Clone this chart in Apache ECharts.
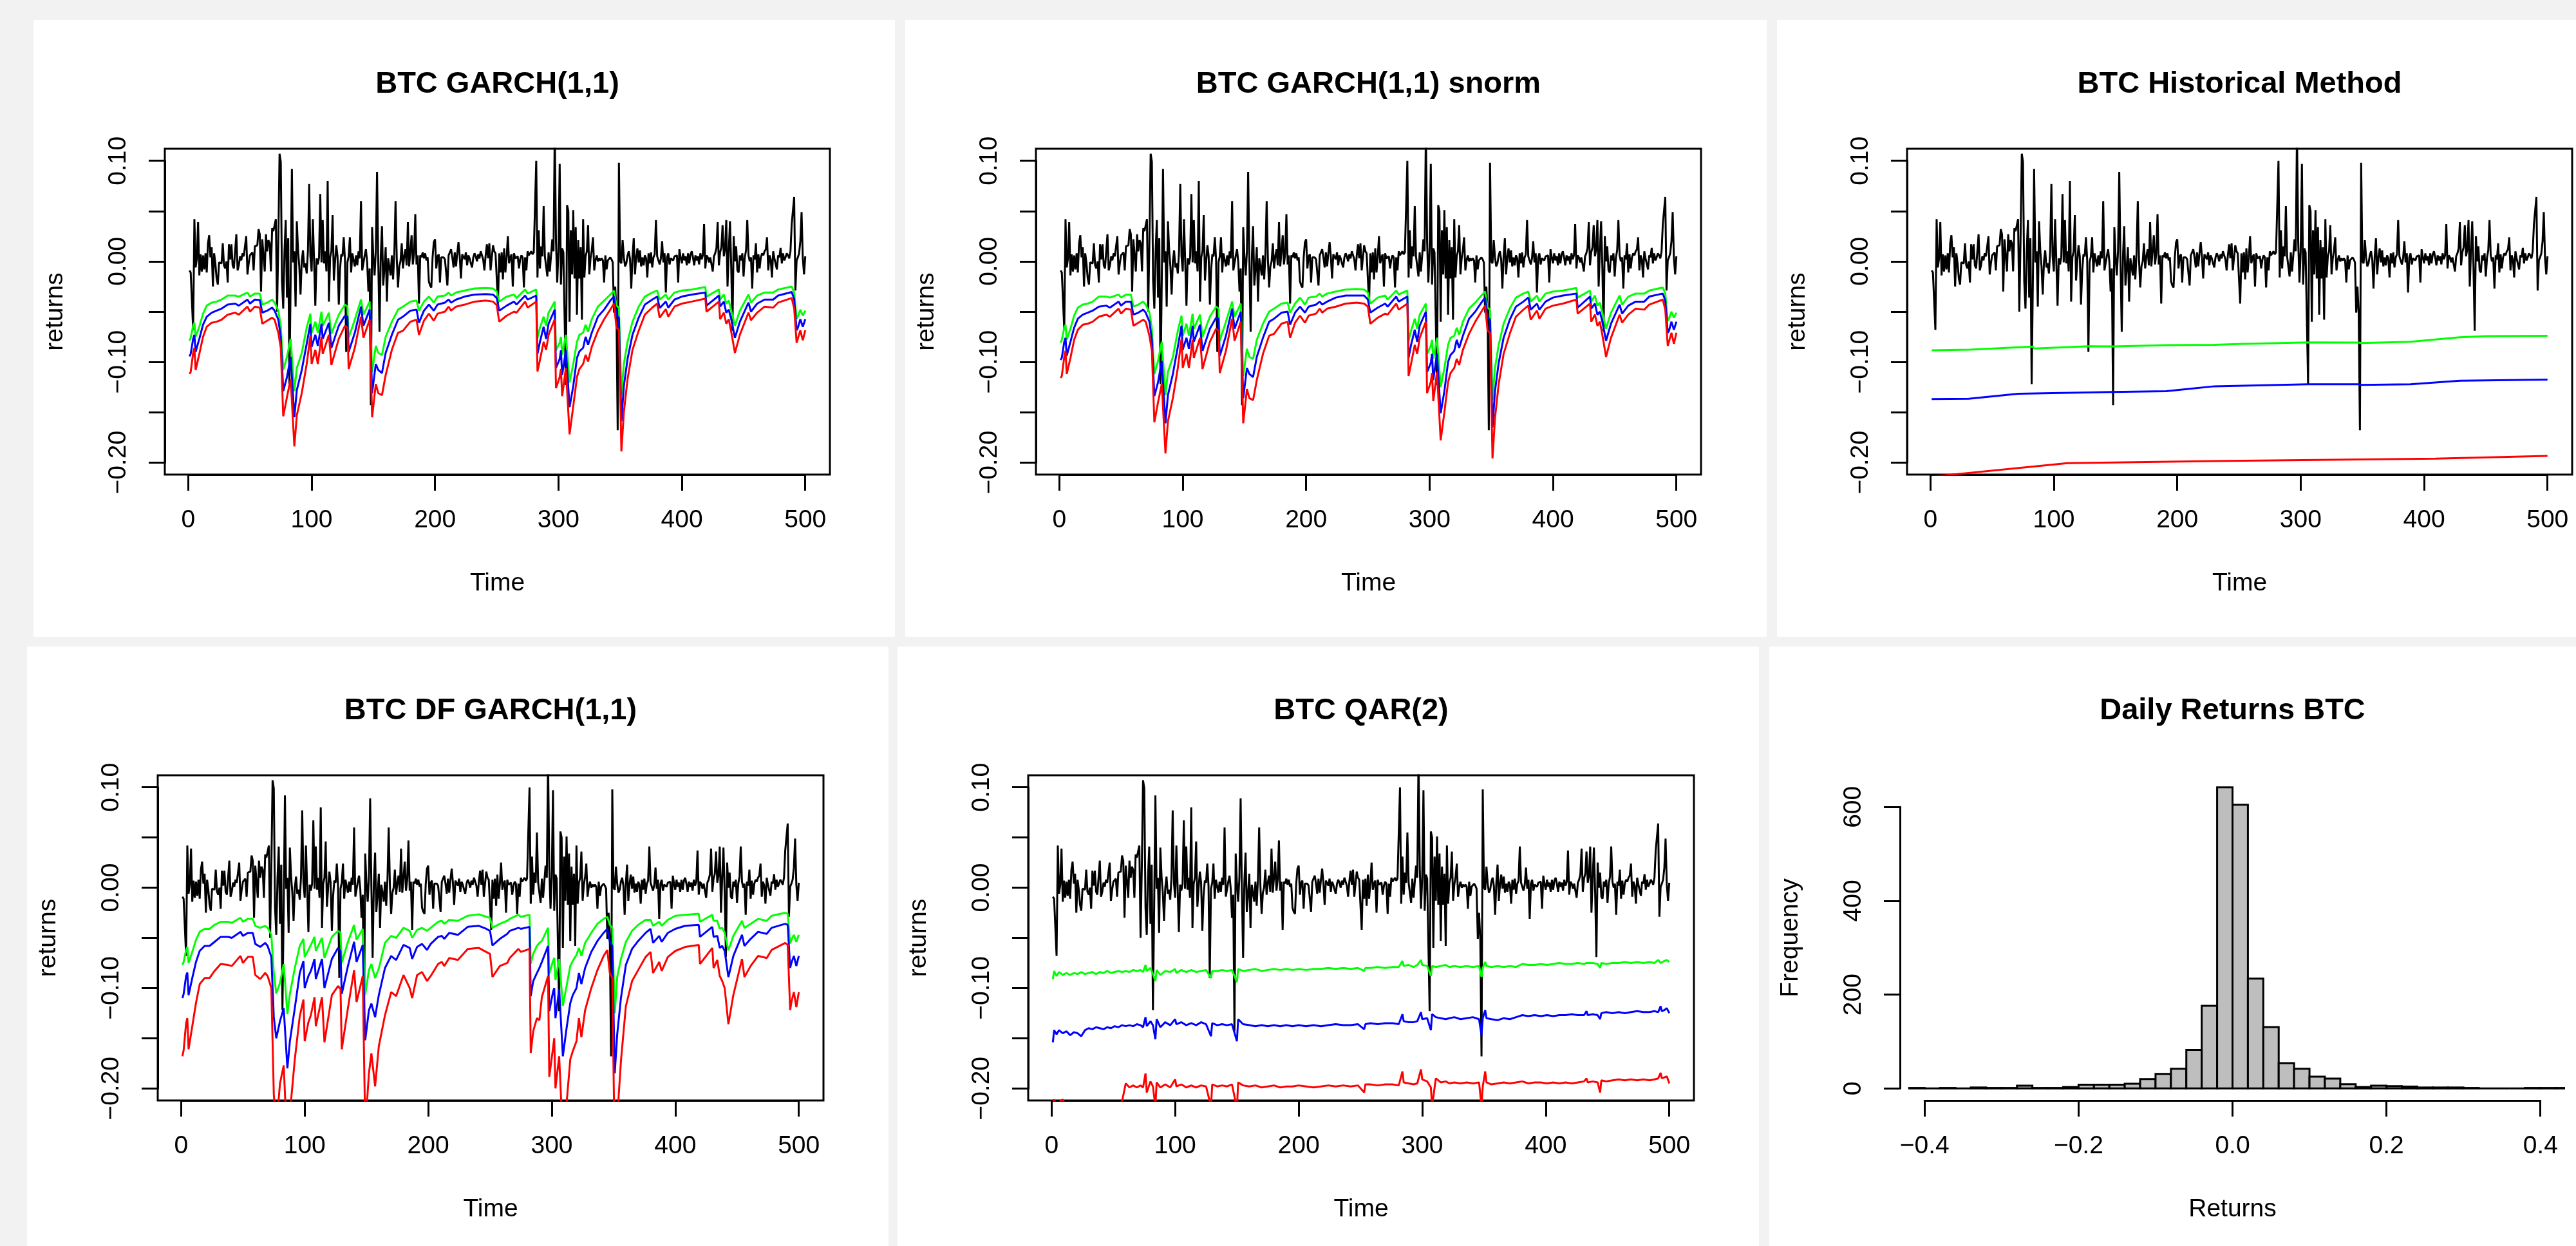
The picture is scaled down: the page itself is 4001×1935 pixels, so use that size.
<!DOCTYPE html>
<html>
<head>
<meta charset="utf-8">
<title>BTC VaR backtests</title>
<script src="https://cdn.jsdelivr.net/npm/echarts@6/dist/echarts.min.js"></script>
<style>
  html, body { margin: 0; padding: 0; background: #f2f2f2; }
  #chart { width: 4001px; height: 1935px; }
</style>
</head>
<body>
<div id="chart"></div>
<script>
// ---- daily BTC returns, t = 1..500
var returns = [
  -0.009,-0.011,-0.012,-0.068,0.042,-0.006,0.003,0.039,-0.014,0.007,
  -0.010,0.006,-0.008,0.008,-0.011,0.018,0.026,0.004,0.014,-0.025,
  0.008,-0.002,-0.017,-0.023,-0.001,0.000,-0.002,0.018,-0.004,-0.007,
  0.000,-0.021,0.017,0.002,0.017,-0.004,-0.007,-0.008,0.027,-0.009,
  -0.004,0.005,0.001,0.008,0.005,0.006,0.025,-0.013,-0.002,0.006,
  0.007,0.009,-0.009,0.015,0.014,0.016,0.032,0.027,-0.030,0.022,
  0.023,-0.010,0.027,0.010,0.021,0.018,-0.010,0.033,0.030,0.030,
  0.042,-0.050,0.020,0.107,0.099,-0.020,-0.047,0.010,0.041,-0.036,
  0.023,-0.122,-0.020,0.092,-0.001,0.010,-0.045,0.040,0.011,-0.005,
  -0.033,0.000,0.011,-0.006,-0.002,-0.012,0.010,0.077,0.005,-0.010,
  0.042,0.000,-0.044,0.003,-0.003,0.004,0.067,-0.001,0.041,-0.002,
  0.010,-0.010,0.080,-0.040,0.004,0.010,0.046,-0.019,0.000,0.016,
  0.005,-0.043,-0.008,0.007,0.005,0.024,0.002,-0.090,-0.001,0.005,
  0.024,-0.011,0.008,0.009,-0.005,0.006,-0.004,0.010,0.003,0.060,
  -0.009,-0.010,0.006,0.012,-0.001,-0.030,-0.007,-0.143,0.034,0.005,
  -0.014,0.010,0.089,0.000,-0.070,0.005,0.035,-0.024,-0.007,0.014,
  -0.040,0.003,-0.005,-0.014,0.006,-0.018,0.008,0.060,0.002,-0.026,
  -0.005,0.000,0.018,-0.007,0.005,0.012,-0.004,0.039,-0.005,0.010,
  0.026,-0.003,0.008,0.047,-0.003,0.006,-0.042,0.006,0.004,0.009,
  0.003,0.008,0.001,0.004,-0.020,-0.024,-0.026,0.004,0.019,0.022,
  -0.007,0.005,0.007,-0.021,0.004,0.005,0.004,0.002,0.003,-0.024,
  0.006,0.006,0.012,0.004,-0.006,0.009,-0.005,0.008,0.019,0.005,
  -0.017,0.007,0.008,0.002,0.009,-0.004,0.006,0.003,-0.002,-0.006,
  0.004,0.008,0.005,0.000,0.007,0.003,0.010,0.011,0.002,-0.009,
  0.006,0.017,0.003,0.018,-0.009,0.004,0.016,0.010,0.008,0.009,
  -0.042,0.008,-0.011,0.009,-0.018,0.013,-0.011,0.004,0.025,-0.002,
  0.004,0.007,-0.025,0.008,0.003,0.004,0.005,-0.007,0.002,0.006,
  0.004,-0.026,0.004,-0.009,0.010,0.006,0.005,0.010,0.007,0.009,
  0.008,0.100,-0.016,0.031,-0.007,0.015,0.005,0.055,0.005,0.004,
  -0.015,0.009,-0.010,0.006,0.022,0.010,0.130,0.020,-0.021,0.010,
  0.097,-0.023,0.013,0.009,0.008,-0.123,0.056,0.050,-0.060,0.031,
  -0.013,0.051,-0.017,0.034,-0.053,0.021,-0.017,0.014,-0.058,0.042,
  -0.016,0.005,0.010,0.036,-0.013,0.003,0.011,0.024,-0.009,0.001,
  0.006,0.000,0.003,0.001,0.003,0.001,-0.021,0.006,-0.008,0.001,
  0.000,0.004,0.002,-0.001,-0.051,-0.025,-0.051,-0.168,0.098,0.000,
  -0.002,0.021,0.004,-0.005,-0.002,0.006,0.010,0.002,-0.027,0.005,
  0.023,-0.013,0.004,0.013,-0.001,0.011,-0.005,0.004,-0.004,0.006,
  0.003,-0.016,0.008,-0.002,0.009,-0.006,0.004,0.007,0.041,0.005,
  0.004,-0.003,0.003,0.020,-0.001,0.008,-0.031,0.004,0.008,-0.003,
  0.003,0.002,0.001,0.005,0.004,0.006,-0.021,0.012,0.004,-0.002,
  0.008,0.001,0.005,-0.004,0.008,-0.002,0.007,0.010,0.004,-0.004,
  0.006,0.001,0.005,-0.003,0.008,0.002,0.006,0.037,-0.007,0.006,
  0.004,-0.001,0.004,-0.003,-0.010,0.005,0.008,0.013,0.039,-0.004,
  0.009,0.014,0.036,0.005,0.012,0.041,-0.025,0.010,0.040,-0.005,
  -0.069,0.025,0.000,0.015,-0.009,-0.011,0.006,0.001,0.008,-0.015,
  0.004,0.011,0.041,0.006,0.000,0.004,-0.027,0.006,0.002,0.018,
  -0.011,0.007,-0.007,0.004,0.008,0.006,0.010,0.012,0.024,-0.009,
  0.006,0.002,-0.016,0.010,0.003,0.004,-0.008,0.006,0.004,0.0135,
  -0.002,0.008,0.001,0.004,0.008,0.006,0.003,0.010,0.037,0.037,
  0.064,-0.029,0.001,0.004,0.008,0.020,0.049,0.003,-0.013,0.005
];

// ---- GARCH-type VaR lines, read at these days
var varT = [
  1,2,4,5,6,9,12,15,19,23,
  27,32,38,41,48,50,54,58,60,64,
  68,70,73,75,77,80,83,86,88,92,
  96,99,100,103,105,108,109,114,116,122,
  127,129,130,135,140,142,147,149,152,154,
  157,160,165,170,174,180,185,187,191,195,
  199,202,208,211,213,217,224,232,241,247,
  250,252,258,264,266,273,275,282,283,285,
  288,290,292,297,298,301,302,303,306,309,
  312,315,317,320,322,324,327,332,337,342,
  345,347,349,351,353,356,360,365,370,376,
  380,382,387,389,394,400,408,419,420,430,
  431,434,436,438,440,443,447,454,456,461,
  467,474,478,489,491,493,494,496,498,500
];

// BTC GARCH(1,1)
var garchG = [
  -0.079,-0.076,-0.064,-0.061,-0.075,-0.065,-0.052,-0.044,-0.041,-0.040,
  -0.038,-0.034,-0.034,-0.035,-0.031,-0.035,-0.032,-0.032,-0.043,-0.041,
  -0.038,-0.041,-0.049,-0.064,-0.108,-0.095,-0.077,-0.129,-0.106,-0.091,
  -0.066,-0.052,-0.071,-0.060,-0.071,-0.050,-0.064,-0.051,-0.072,-0.053,
  -0.043,-0.045,-0.076,-0.058,-0.038,-0.053,-0.040,-0.110,-0.084,-0.091,
  -0.093,-0.075,-0.060,-0.048,-0.045,-0.040,-0.039,-0.049,-0.040,-0.035,
  -0.041,-0.035,-0.034,-0.031,-0.034,-0.031,-0.029,-0.027,-0.0265,-0.027,
  -0.030,-0.040,-0.035,-0.033,-0.0365,-0.028,-0.032,-0.028,-0.076,-0.066,
  -0.055,-0.064,-0.051,-0.040,-0.0885,-0.081,-0.075,-0.093,-0.073,-0.1205,
  -0.102,-0.080,-0.073,-0.071,-0.063,-0.070,-0.0575,-0.045,-0.039,-0.033,
  -0.029,-0.044,-0.046,-0.133,-0.102,-0.080,-0.060,-0.045,-0.035,-0.031,
  -0.029,-0.038,-0.033,-0.038,-0.031,-0.029,-0.028,-0.0255,-0.035,-0.028,
  -0.038,-0.033,-0.042,-0.039,-0.049,-0.064,-0.049,-0.033,-0.041,-0.034,
  -0.031,-0.031,-0.028,-0.025,-0.031,-0.057,-0.055,-0.048,-0.054,-0.049
];
var garchB = [
  -0.0945,-0.092,-0.077,-0.073,-0.090,-0.077,-0.063,-0.055,-0.051,-0.049,
  -0.047,-0.043,-0.042,-0.044,-0.038,-0.042,-0.038,-0.0385,-0.051,-0.049,
  -0.046,-0.049,-0.058,-0.075,-0.129,-0.115,-0.095,-0.155,-0.128,-0.108,
  -0.082,-0.062,-0.085,-0.073,-0.084,-0.062,-0.077,-0.061,-0.086,-0.064,
  -0.054,-0.055,-0.090,-0.071,-0.045,-0.064,-0.048,-0.131,-0.102,-0.108,
  -0.111,-0.091,-0.073,-0.058,-0.055,-0.049,-0.048,-0.061,-0.049,-0.043,
  -0.049,-0.043,-0.041,-0.038,-0.041,-0.038,-0.035,-0.033,-0.0325,-0.033,
  -0.0365,-0.049,-0.044,-0.040,-0.043,-0.034,-0.038,-0.034,-0.092,-0.080,
  -0.065,-0.077,-0.062,-0.048,-0.106,-0.097,-0.0885,-0.113,-0.0885,-0.145,
  -0.124,-0.096,-0.0895,-0.086,-0.075,-0.083,-0.071,-0.055,-0.048,-0.039,
  -0.035,-0.054,-0.056,-0.159,-0.124,-0.097,-0.073,-0.056,-0.043,-0.038,
  -0.035,-0.0465,-0.040,-0.046,-0.038,-0.035,-0.033,-0.031,-0.044,-0.034,
  -0.045,-0.040,-0.051,-0.048,-0.0575,-0.076,-0.060,-0.041,-0.050,-0.042,
  -0.038,-0.038,-0.034,-0.0305,-0.0375,-0.0685,-0.066,-0.0575,-0.065,-0.0575
];
var garchR = [
  -0.112,-0.110,-0.091,-0.086,-0.108,-0.092,-0.075,-0.065,-0.061,-0.060,
  -0.058,-0.053,-0.051,-0.053,-0.045,-0.050,-0.045,-0.046,-0.062,-0.059,
  -0.056,-0.058,-0.071,-0.086,-0.154,-0.135,-0.117,-0.184,-0.153,-0.131,
  -0.102,-0.074,-0.102,-0.088,-0.102,-0.075,-0.092,-0.073,-0.103,-0.077,
  -0.064,-0.066,-0.107,-0.086,-0.055,-0.076,-0.058,-0.155,-0.122,-0.131,
  -0.133,-0.113,-0.088,-0.071,-0.069,-0.060,-0.058,-0.073,-0.059,-0.052,
  -0.059,-0.052,-0.050,-0.045,-0.049,-0.045,-0.043,-0.040,-0.039,-0.040,
  -0.0435,-0.060,-0.054,-0.050,-0.051,-0.040,-0.046,-0.040,-0.1095,-0.098,
  -0.080,-0.088,-0.073,-0.0575,-0.126,-0.115,-0.107,-0.134,-0.106,-0.172,
  -0.144,-0.115,-0.107,-0.102,-0.093,-0.0995,-0.085,-0.069,-0.0575,-0.048,
  -0.042,-0.066,-0.068,-0.189,-0.150,-0.117,-0.088,-0.069,-0.053,-0.046,
  -0.042,-0.056,-0.0475,-0.055,-0.045,-0.042,-0.040,-0.037,-0.050,-0.040,
  -0.0575,-0.051,-0.062,-0.0575,-0.070,-0.091,-0.073,-0.051,-0.0585,-0.051,
  -0.045,-0.046,-0.041,-0.0365,-0.0465,-0.081,-0.080,-0.0685,-0.0785,-0.0685
];

// BTC GARCH(1,1) snorm
var snormG = [
  -0.081,-0.078,-0.066,-0.063,-0.078,-0.067,-0.054,-0.046,-0.043,-0.042,
  -0.040,-0.035,-0.035,-0.036,-0.033,-0.036,-0.033,-0.033,-0.045,-0.043,
  -0.040,-0.043,-0.051,-0.067,-0.112,-0.099,-0.080,-0.133,-0.110,-0.095,
  -0.069,-0.054,-0.074,-0.062,-0.074,-0.052,-0.067,-0.053,-0.075,-0.055,
  -0.045,-0.047,-0.079,-0.060,-0.040,-0.055,-0.042,-0.114,-0.087,-0.095,
  -0.097,-0.078,-0.062,-0.050,-0.047,-0.042,-0.041,-0.051,-0.042,-0.036,
  -0.043,-0.036,-0.035,-0.032,-0.035,-0.032,-0.030,-0.028,-0.0275,-0.028,
  -0.031,-0.042,-0.036,-0.034,-0.038,-0.029,-0.033,-0.029,-0.079,-0.069,
  -0.057,-0.067,-0.053,-0.042,-0.092,-0.084,-0.078,-0.097,-0.076,-0.125,
  -0.106,-0.083,-0.076,-0.074,-0.066,-0.073,-0.060,-0.047,-0.041,-0.034,
  -0.030,-0.046,-0.048,-0.138,-0.106,-0.083,-0.062,-0.047,-0.036,-0.032,
  -0.030,-0.040,-0.034,-0.040,-0.032,-0.030,-0.029,-0.0265,-0.036,-0.029,
  -0.040,-0.034,-0.044,-0.041,-0.051,-0.067,-0.051,-0.034,-0.043,-0.035,
  -0.032,-0.032,-0.029,-0.026,-0.032,-0.059,-0.057,-0.050,-0.056,-0.051
];
var snormB = [
  -0.098,-0.096,-0.080,-0.076,-0.094,-0.080,-0.066,-0.057,-0.053,-0.051,
  -0.049,-0.045,-0.044,-0.046,-0.040,-0.044,-0.040,-0.040,-0.053,-0.051,
  -0.048,-0.051,-0.060,-0.078,-0.134,-0.120,-0.099,-0.161,-0.133,-0.112,
  -0.085,-0.064,-0.088,-0.076,-0.087,-0.064,-0.080,-0.063,-0.089,-0.067,
  -0.056,-0.057,-0.094,-0.074,-0.047,-0.067,-0.050,-0.136,-0.106,-0.112,
  -0.115,-0.095,-0.076,-0.060,-0.057,-0.051,-0.050,-0.063,-0.051,-0.045,
  -0.051,-0.045,-0.043,-0.040,-0.043,-0.040,-0.036,-0.034,-0.034,-0.034,
  -0.038,-0.051,-0.046,-0.042,-0.045,-0.035,-0.040,-0.035,-0.096,-0.083,
  -0.068,-0.080,-0.064,-0.050,-0.110,-0.101,-0.092,-0.118,-0.092,-0.151,
  -0.129,-0.100,-0.093,-0.089,-0.078,-0.086,-0.074,-0.057,-0.050,-0.041,
  -0.036,-0.056,-0.058,-0.165,-0.129,-0.101,-0.076,-0.058,-0.045,-0.040,
  -0.036,-0.048,-0.042,-0.048,-0.040,-0.036,-0.034,-0.032,-0.046,-0.035,
  -0.047,-0.042,-0.053,-0.050,-0.060,-0.079,-0.062,-0.043,-0.052,-0.044,
  -0.040,-0.040,-0.035,-0.032,-0.039,-0.071,-0.069,-0.060,-0.068,-0.060
];
var snormR = [
  -0.116,-0.114,-0.095,-0.089,-0.112,-0.096,-0.078,-0.068,-0.063,-0.062,
  -0.060,-0.055,-0.053,-0.055,-0.047,-0.052,-0.047,-0.048,-0.064,-0.061,
  -0.058,-0.060,-0.074,-0.089,-0.160,-0.140,-0.122,-0.191,-0.159,-0.136,
  -0.106,-0.077,-0.106,-0.092,-0.106,-0.078,-0.096,-0.076,-0.107,-0.080,
  -0.067,-0.069,-0.111,-0.089,-0.057,-0.079,-0.060,-0.161,-0.127,-0.136,
  -0.138,-0.118,-0.092,-0.074,-0.072,-0.062,-0.060,-0.076,-0.061,-0.054,
  -0.061,-0.054,-0.052,-0.047,-0.051,-0.047,-0.045,-0.042,-0.041,-0.042,
  -0.045,-0.062,-0.056,-0.052,-0.053,-0.042,-0.048,-0.042,-0.114,-0.102,
  -0.083,-0.092,-0.076,-0.060,-0.131,-0.120,-0.111,-0.139,-0.110,-0.178,
  -0.150,-0.120,-0.111,-0.106,-0.097,-0.103,-0.088,-0.072,-0.060,-0.050,
  -0.044,-0.069,-0.071,-0.196,-0.156,-0.122,-0.092,-0.072,-0.055,-0.048,
  -0.044,-0.058,-0.049,-0.057,-0.047,-0.044,-0.042,-0.038,-0.052,-0.042,
  -0.060,-0.053,-0.064,-0.060,-0.073,-0.095,-0.076,-0.053,-0.061,-0.053,
  -0.047,-0.048,-0.043,-0.038,-0.048,-0.084,-0.083,-0.071,-0.082,-0.071
];

// BTC DF GARCH(1,1)
var dfG = [
  -0.077,-0.074,-0.062,-0.059,-0.075,-0.064,-0.052,-0.044,-0.041,-0.041,
  -0.037,-0.034,-0.034,-0.035,-0.030,-0.034,-0.031,-0.031,-0.038,-0.040,
  -0.038,-0.040,-0.047,-0.085,-0.1055,-0.095,-0.076,-0.126,-0.106,-0.080,
  -0.058,-0.051,-0.069,-0.062,-0.057,-0.049,-0.063,-0.050,-0.070,-0.049,
  -0.043,-0.045,-0.075,-0.054,-0.037,-0.052,-0.041,-0.1066,-0.082,-0.076,
  -0.090,-0.0805,-0.055,-0.048,-0.050,-0.040,-0.043,-0.050,-0.042,-0.040,
  -0.043,-0.040,-0.034,-0.033,-0.036,-0.032,-0.033,-0.028,-0.0265,-0.029,
  -0.030,-0.040,-0.036,-0.033,-0.031,-0.027,-0.029,-0.027,-0.0757,-0.066,
  -0.058,-0.055,-0.053,-0.040,-0.0856,-0.073,-0.070,-0.092,-0.071,-0.1177,
  -0.098,-0.078,-0.073,-0.067,-0.060,-0.068,-0.055,-0.045,-0.036,-0.031,
  -0.029,-0.037,-0.040,-0.125,-0.089,-0.071,-0.054,-0.043,-0.037,-0.032,
  -0.032,-0.038,-0.034,-0.038,-0.032,-0.028,-0.027,-0.026,-0.034,-0.027,
  -0.033,-0.033,-0.041,-0.040,-0.045,-0.0624,-0.048,-0.033,-0.040,-0.036,
  -0.031,-0.033,-0.028,-0.025,-0.026,-0.0557,-0.052,-0.047,-0.054,-0.047
];
var dfB = [
  -0.110,-0.106,-0.088,-0.0845,-0.107,-0.090,-0.074,-0.063,-0.058,-0.058,
  -0.054,-0.049,-0.049,-0.050,-0.044,-0.048,-0.045,-0.045,-0.056,-0.059,
  -0.055,-0.058,-0.069,-0.129,-0.150,-0.133,-0.120,-0.180,-0.153,-0.120,
  -0.085,-0.073,-0.100,-0.088,-0.083,-0.071,-0.091,-0.071,-0.100,-0.071,
  -0.060,-0.063,-0.106,-0.078,-0.054,-0.074,-0.057,-0.152,-0.122,-0.1155,
  -0.129,-0.107,-0.080,-0.068,-0.072,-0.057,-0.060,-0.071,-0.059,-0.056,
  -0.062,-0.056,-0.049,-0.048,-0.051,-0.045,-0.047,-0.039,-0.038,-0.041,
  -0.043,-0.0575,-0.051,-0.046,-0.043,-0.040,-0.041,-0.039,-0.108,-0.093,
  -0.085,-0.080,-0.074,-0.058,-0.123,-0.104,-0.100,-0.130,-0.101,-0.168,
  -0.140,-0.115,-0.107,-0.100,-0.085,-0.096,-0.080,-0.064,-0.053,-0.045,
  -0.041,-0.054,-0.058,-0.185,-0.146,-0.110,-0.077,-0.061,-0.053,-0.045,
  -0.041,-0.055,-0.048,-0.054,-0.045,-0.041,-0.038,-0.037,-0.049,-0.039,
  -0.049,-0.048,-0.060,-0.058,-0.063,-0.089,-0.068,-0.047,-0.058,-0.051,
  -0.044,-0.046,-0.040,-0.036,-0.037,-0.080,-0.075,-0.068,-0.078,-0.068
];
var dfR = [
  -0.168,-0.162,-0.135,-0.130,-0.161,-0.138,-0.115,-0.096,-0.090,-0.090,
  -0.083,-0.076,-0.077,-0.078,-0.068,-0.075,-0.069,-0.069,-0.087,-0.091,
  -0.085,-0.088,-0.100,-0.206,-0.240,-0.195,-0.177,-0.260,-0.225,-0.171,
  -0.128,-0.1115,-0.153,-0.134,-0.127,-0.109,-0.138,-0.109,-0.154,-0.107,
  -0.098,-0.101,-0.161,-0.120,-0.082,-0.114,-0.088,-0.240,-0.185,-0.165,
  -0.198,-0.158,-0.127,-0.104,-0.108,-0.087,-0.100,-0.110,-0.087,-0.084,
  -0.093,-0.088,-0.076,-0.074,-0.078,-0.070,-0.072,-0.061,-0.060,-0.064,
  -0.066,-0.089,-0.078,-0.075,-0.070,-0.061,-0.064,-0.061,-0.1646,-0.143,
  -0.130,-0.132,-0.109,-0.088,-0.1885,-0.160,-0.150,-0.200,-0.168,-0.250,
  -0.215,-0.171,-0.163,-0.153,-0.130,-0.149,-0.122,-0.100,-0.082,-0.068,
  -0.062,-0.085,-0.090,-0.270,-0.230,-0.173,-0.118,-0.093,-0.082,-0.069,
  -0.064,-0.085,-0.074,-0.083,-0.069,-0.063,-0.059,-0.057,-0.076,-0.060,
  -0.080,-0.072,-0.088,-0.093,-0.100,-0.136,-0.107,-0.071,-0.089,-0.078,
  -0.068,-0.070,-0.062,-0.055,-0.057,-0.122,-0.114,-0.104,-0.119,-0.104
];

// BTC Historical Method (almost flat, with small steps)
var histGT = [1,32,83,84,128,129,149,150,191,230,249,306,307,347,349,389,429,451,500];
var histG  = [-0.0884,-0.0878,-0.0848,-0.0866,-0.0844,-0.0855,-0.0845,-0.0855,-0.0833,-0.0830,
              -0.0822,-0.0806,-0.0815,-0.0808,-0.0812,-0.0800,-0.0755,-0.0744,-0.0740];
var histBT = [1,31,71,147,148,191,209,230,306,307,347,349,389,429,500];
var histB  = [-0.1369,-0.1366,-0.1316,-0.1298,-0.1303,-0.1291,-0.1269,-0.1242,-0.1222,-0.1232,
              -0.1222,-0.1228,-0.1222,-0.1187,-0.1176];
var histRT = [1,111,230,409,500];
var histR  = [-0.2140,-0.2007,-0.1985,-0.1962,-0.1934];

// BTC QAR(2)
var qarT = [
  1,2,4,6,9,12,15,18,21,24,
  27,30,33,36,39,42,45,48,51,54,
  57,60,63,66,69,72,74,76,77,80,
  82,84,85,88,92,96,100,101,105,109,
  113,117,121,125,129,130,134,138,142,146,
  150,151,155,160,165,170,175,180,185,190,
  195,200,206,212,218,224,230,236,242,248,
  253,254,258,264,270,276,281,284,285,289,
  293,296,299,300,304,307,308,311,315,319,
  322,326,331,336,341,346,348,349,351,352,
  356,361,366,371,376,381,386,391,396,401,
  406,411,416,421,426,431,433,434,438,442,
  444,445,449,454,459,464,469,474,479,484,
  488,491,493,494,496,498,500
];
var qarG = [
  -0.091,-0.083,-0.088,-0.084,-0.087,-0.085,-0.087,-0.085,-0.086,-0.084,
  -0.086,-0.085,-0.084,-0.086,-0.084,-0.085,-0.083,-0.085,-0.084,-0.083,
  -0.084,-0.083,-0.084,-0.082,-0.083,-0.082,-0.084,-0.077,-0.083,-0.080,
  -0.086,-0.093,-0.082,-0.087,-0.083,-0.084,-0.081,-0.085,-0.082,-0.084,
  -0.082,-0.084,-0.083,-0.082,-0.090,-0.083,-0.083,-0.082,-0.083,-0.082,
  -0.094,-0.081,-0.083,-0.082,-0.081,-0.083,-0.082,-0.081,-0.082,-0.081,
  -0.082,-0.081,-0.082,-0.081,-0.081,-0.080,-0.081,-0.080,-0.081,-0.080,
  -0.083,-0.080,-0.080,-0.079,-0.080,-0.079,-0.079,-0.073,-0.078,-0.077,
  -0.079,-0.077,-0.072,-0.077,-0.078,-0.088,-0.078,-0.079,-0.078,-0.077,
  -0.079,-0.078,-0.079,-0.078,-0.079,-0.078,-0.089,-0.080,-0.074,-0.078,
  -0.079,-0.078,-0.079,-0.078,-0.079,-0.076,-0.077,-0.077,-0.076,-0.077,
  -0.076,-0.075,-0.076,-0.076,-0.075,-0.076,-0.075,-0.076,-0.075,-0.076,
  -0.080,-0.075,-0.076,-0.075,-0.075,-0.074,-0.075,-0.074,-0.075,-0.074,
  -0.075,-0.072,-0.075,-0.074,-0.073,-0.072,-0.074
];
var qarB = [
  -0.154,-0.142,-0.146,-0.142,-0.145,-0.143,-0.147,-0.144,-0.145,-0.148,
  -0.142,-0.140,-0.141,-0.139,-0.140,-0.141,-0.139,-0.140,-0.138,-0.139,
  -0.137,-0.138,-0.137,-0.138,-0.136,-0.137,-0.139,-0.129,-0.138,-0.133,
  -0.137,-0.151,-0.131,-0.139,-0.134,-0.137,-0.131,-0.136,-0.134,-0.137,
  -0.135,-0.137,-0.134,-0.136,-0.148,-0.135,-0.137,-0.136,-0.137,-0.136,
  -0.153,-0.131,-0.136,-0.137,-0.138,-0.137,-0.138,-0.137,-0.138,-0.137,
  -0.138,-0.137,-0.138,-0.137,-0.138,-0.137,-0.136,-0.137,-0.137,-0.136,
  -0.141,-0.136,-0.135,-0.136,-0.135,-0.135,-0.136,-0.126,-0.133,-0.134,
  -0.134,-0.133,-0.124,-0.131,-0.130,-0.142,-0.126,-0.129,-0.130,-0.131,
  -0.130,-0.129,-0.131,-0.130,-0.129,-0.131,-0.147,-0.130,-0.122,-0.130,
  -0.131,-0.132,-0.130,-0.131,-0.129,-0.127,-0.128,-0.127,-0.128,-0.127,
  -0.128,-0.127,-0.127,-0.126,-0.127,-0.127,-0.123,-0.127,-0.126,-0.127,
  -0.131,-0.125,-0.124,-0.125,-0.124,-0.125,-0.124,-0.123,-0.124,-0.124,
  -0.123,-0.124,-0.118,-0.123,-0.122,-0.120,-0.125
];
var qarR = [
  -0.222,-0.211,-0.218,-0.214,-0.211,-0.219,-0.222,-0.216,-0.220,-0.223,
  -0.218,-0.216,-0.219,-0.217,-0.215,-0.218,-0.216,-0.217,-0.215,-0.216,
  -0.213,-0.195,-0.199,-0.197,-0.199,-0.197,-0.199,-0.185,-0.204,-0.193,
  -0.198,-0.218,-0.194,-0.199,-0.196,-0.199,-0.191,-0.198,-0.196,-0.199,
  -0.197,-0.199,-0.197,-0.198,-0.218,-0.196,-0.198,-0.197,-0.198,-0.196,
  -0.220,-0.194,-0.197,-0.198,-0.197,-0.199,-0.198,-0.197,-0.199,-0.198,
  -0.198,-0.197,-0.198,-0.199,-0.198,-0.197,-0.198,-0.197,-0.198,-0.197,
  -0.204,-0.196,-0.196,-0.197,-0.196,-0.196,-0.197,-0.183,-0.194,-0.195,
  -0.196,-0.195,-0.181,-0.191,-0.193,-0.199,-0.218,-0.190,-0.194,-0.193,
  -0.195,-0.194,-0.195,-0.194,-0.195,-0.194,-0.218,-0.198,-0.183,-0.194,
  -0.196,-0.195,-0.194,-0.195,-0.194,-0.193,-0.195,-0.194,-0.194,-0.195,
  -0.194,-0.195,-0.194,-0.195,-0.194,-0.193,-0.190,-0.194,-0.193,-0.194,
  -0.204,-0.192,-0.193,-0.192,-0.191,-0.192,-0.191,-0.192,-0.191,-0.192,
  -0.191,-0.190,-0.1845,-0.190,-0.189,-0.188,-0.195
];

// Daily Returns BTC histogram: bin edges and counts
var breaks = [
  -0.42,-0.40,-0.38,-0.36,-0.34,-0.32,-0.30,-0.28,-0.26,-0.24,-0.22,
  -0.20,-0.18,-0.16,-0.14,-0.12,-0.10,-0.08,-0.06,-0.04,-0.02,
  0.00,0.02,0.04,0.06,0.08,0.10,0.12,0.14,0.16,0.18,0.20,
  0.22,0.24,0.26,0.28,0.30,0.32,0.34,0.36,0.38,0.40,0.42,0.44
];
var counts = [
  1,0,1,0,2,1,1,6,1,1,3,
  8,8,8,10,20,31,42,82,176,642,
  605,234,131,54,42,25,21,9,3,6,5,
  4,2,2,2,1,0,0,0,1,1,1
];

// axis ranges (R widens xlim / ylim by 4 %)
var timeRange = [-18.96, 519.96];
var retRange = [-0.212, 0.112];
var timeTicks = { min: 0, max: 500, step: 100 };
var retTicks = { min: -0.2, max: 0.1, step: 0.05 };
var histXRange = [-0.432, 0.432];
var histXTicks = { min: -0.4, max: 0.4, step: 0.2 };
var freqRange = [-25.68, 667.68];
var freqTicks = { min: 0, max: 600, step: 200 };

var FONT = '"Liberation Sans", Arial, Helvetica, sans-serif';
var BLACK = '#000000';
var GREEN = '#00ff00', BLUE = '#0000ff', RED = '#ff0000';

function pairs(ts, vs) {
  return ts.map(function (t, i) { return [t, vs[i]]; });
}
var returnsData = returns.map(function (v, i) { return [i + 1, v]; });

function rNum(v, d) {
  return (v < -1e-9 ? '\u2212' : '') + Math.abs(v).toFixed(d);
}

var option = {
  backgroundColor: '#f2f2f2',
  animation: false,
  graphic: [],
  grid: [],
  xAxis: [],
  yAxis: [],
  series: []
};

function nameAxis(extra) {
  return Object.assign({
    type: 'value',
    nameLocation: 'middle',
    nameTextStyle: { color: BLACK, fontSize: 39, fontFamily: FONT },
    axisLine: { show: false, onZero: false },
    axisTick: { show: false },
    axisLabel: { show: false },
    splitLine: { show: false }
  }, extra);
}

function tickAxis(extra, fmt, rotate) {
  return Object.assign({
    type: 'value',
    axisLine: { show: true, onZero: false, lineStyle: { color: BLACK, width: 3 } },
    axisTick: { show: true, inside: false, length: 25, lineStyle: { color: BLACK, width: 3 } },
    axisLabel: { color: BLACK, fontSize: 39, fontFamily: FONT, margin: 52, rotate: rotate || 0, formatter: fmt },
    splitLine: { show: false }
  }, extra);
}

function addPanel(p) {
  var b = p.box;
  option.graphic.push({
    type: 'rect', z: -10, silent: true,
    shape: { x: p.bg[0], y: p.bg[1], width: p.bg[2], height: p.bg[3] },
    style: { fill: '#ffffff' }
  });
  option.graphic.push({
    type: 'text', z: 10, silent: true,
    x: b[0] + b[2] / 2, y: b[1] - 100,
    style: { text: p.title, font: 'bold 47px ' + FONT, fill: BLACK,
             textAlign: 'center', textVerticalAlign: 'middle' }
  });
  var g = option.grid.length;
  option.grid.push({ left: b[0], top: b[1], width: b[2], height: b[3],
                     show: p.frame, borderColor: BLACK, borderWidth: 3, backgroundColor: 'transparent' });
  option.xAxis.push(nameAxis({ gridIndex: g, min: p.x[0], max: p.x[1], name: p.xName, nameGap: 150 }));
  option.yAxis.push(nameAxis({ gridIndex: g, min: p.y[0], max: p.y[1], name: p.yName, nameGap: 150, nameRotate: 90 }));

  // tick axes live in helper grids that span only the tick range, like R's axis()
  var sx = b[2] / (p.x[1] - p.x[0]);
  var sy = b[3] / (p.y[1] - p.y[0]);
  var hx = option.grid.length;
  option.grid.push({ left: b[0] + (p.xt.min - p.x[0]) * sx, width: (p.xt.max - p.xt.min) * sx,
                     top: b[1], height: b[3], show: false });
  option.xAxis.push(tickAxis({ gridIndex: hx, min: p.xt.min, max: p.xt.max, interval: p.xt.step, position: 'bottom' }, p.xFmt, 0));
  option.yAxis.push({ type: 'value', gridIndex: hx, show: false, min: 0, max: 1 });

  var hy = option.grid.length;
  option.grid.push({ left: b[0], width: b[2], top: b[1] + (p.y[1] - p.yt.max) * sy,
                     height: (p.yt.max - p.yt.min) * sy, show: false });
  option.xAxis.push({ type: 'value', gridIndex: hy, show: false, min: 0, max: 1 });
  option.yAxis.push(tickAxis({ gridIndex: hy, min: p.yt.min, max: p.yt.max, interval: p.yt.step, position: 'left' }, p.yFmt, 90));
  return g;
}

function addLine(g, data, color) {
  option.series.push({
    type: 'line', xAxisIndex: g, yAxisIndex: g, data: data,
    showSymbol: false, symbol: 'none', clip: true, silent: true,
    lineStyle: { color: color, width: 3 }, itemStyle: { color: color }
  });
}

function timeFmt(v) { return String(Math.round(v)); }
function retFmt(v) {
  return Math.round(v * 100) % 10 === 0 ? rNum(v, 2) : '';
}

var timePanels = [
  { title: 'BTC GARCH(1,1)', box: [256, 231, 1033, 506], bg: [52, 31, 1338, 958],
    lines: [[varT, garchG, GREEN], [varT, garchB, BLUE], [varT, garchR, RED]] },
  { title: 'BTC GARCH(1,1) snorm', box: [1609, 231, 1033, 506], bg: [1406, 31, 1338, 958],
    lines: [[varT, snormG, GREEN], [varT, snormB, BLUE], [varT, snormR, RED]] },
  { title: 'BTC Historical Method', box: [2962, 231, 1033, 506], bg: [2760, 31, 1241, 958],
    lines: [[histGT, histG, GREEN], [histBT, histB, BLUE], [histRT, histR, RED]] },
  { title: 'BTC DF GARCH(1,1)', box: [245, 1204, 1034, 505], bg: [42, 1004, 1338, 931],
    lines: [[varT, dfG, GREEN], [varT, dfB, BLUE], [varT, dfR, RED]] },
  { title: 'BTC QAR(2)', box: [1597, 1204, 1034, 505], bg: [1394, 1004, 1338, 931],
    lines: [[qarT, qarG, GREEN], [qarT, qarB, BLUE], [qarT, qarR, RED]] }
];

timePanels.forEach(function (p) {
  p.frame = true;
  p.x = timeRange; p.y = retRange;
  p.xt = timeTicks; p.yt = retTicks;
  p.xName = 'Time'; p.yName = 'returns';
  p.xFmt = timeFmt; p.yFmt = retFmt;
  var g = addPanel(p);
  addLine(g, returnsData, BLACK);
  p.lines.forEach(function (l) { addLine(g, pairs(l[0], l[1]), l[2]); });
});

// histogram panel
var histPanel = {
  title: 'Daily Returns BTC', box: [2951, 1204, 1033, 505], bg: [2748, 1004, 1253, 931],
  frame: false, x: histXRange, y: freqRange, xt: histXTicks, yt: freqTicks,
  xName: 'Returns', yName: 'Frequency',
  xFmt: function (v) { return rNum(v, 1); },
  yFmt: function (v) { return String(Math.round(v)); }
};
var gh = addPanel(histPanel);
var bins = counts.map(function (c, i) { return [breaks[i], breaks[i + 1], c]; });
option.series.push({
  type: 'custom', xAxisIndex: gh, yAxisIndex: gh, clip: true, silent: true,
  data: bins,
  encode: { x: [0, 1], y: 2 },
  renderItem: function (params, api) {
    var top = api.coord([api.value(0), api.value(2)]);
    var bot = api.coord([api.value(1), 0]);
    return {
      type: 'rect',
      shape: { x: top[0], y: top[1], width: bot[0] - top[0], height: bot[1] - top[1] },
      style: { fill: '#bebebe', stroke: BLACK, lineWidth: 3 }
    };
  }
});

var chart = echarts.init(document.getElementById('chart'), null, { renderer: 'canvas' });
chart.setOption(option);
window.addEventListener('resize', function () { chart.resize(); });
</script>
</body>
</html>
